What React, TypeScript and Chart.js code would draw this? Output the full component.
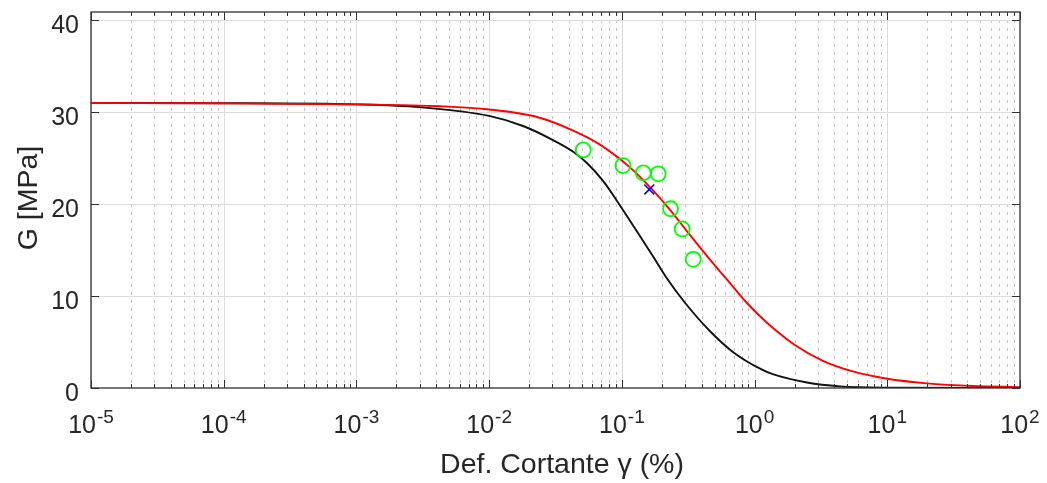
import React, { useEffect, useRef } from 'react';
import { Chart, registerables } from 'chart.js';

Chart.register(...registerables);

// ---- data ----
// black curve (hyperbolic model)
const strainModelA = [1e-5, 1e-4, 1e-3, 3e-3, 0.01, 0.018, 0.03, 0.043, 0.0543, 0.0724, 0.0914, 0.129, 0.172, 0.217, 0.298, 0.46, 0.69, 1.1, 1.37, 2.48, 4.4, 10, 100];
const modulusModelA = [31.0, 30.98, 30.85, 30.55, 29.6, 28.5, 27.0, 25.7, 24.5, 22.5, 20.4, 17.1, 14.3, 12.0, 9.3, 6.2, 3.9, 2.1, 1.5, 0.6, 0.18, 0.04, 0];
// red curve (fitted model)
const strainModelB = [1e-5, 1e-4, 1e-3, 4.3e-3, 0.01, 0.024, 0.043, 0.068, 0.115, 0.163, 0.23, 0.308, 0.46, 0.69, 0.87, 1.1, 1.37, 2.0, 3.27, 5.5, 10, 19.8, 44, 100];
const modulusModelB = [31.0, 30.97, 30.85, 30.65, 30.3, 29.4, 28.0, 26.5, 24.0, 21.85, 19.4, 17.1, 14.0, 11.0, 9.3, 7.8, 6.55, 4.7, 2.95, 1.8, 1.0, 0.5, 0.21, 0.1];
// green circles (measured)
const strainLab = [0.0512, 0.102, 0.145, 0.188, 0.233, 0.285, 0.345];
const modulusLab = [25.9, 24.2, 23.4, 23.3, 19.5, 17.3, 14.0];
// blue cross
const strainRef = [0.161];
const modulusRef = [21.6];

// ---- axes ----
const xTickExponents = [-5, -4, -3, -2, -1, 0, 1, 2];
const xMinorFactors = [2, 3, 4, 5, 6, 7, 8, 9];
const yTickValues = [0, 10, 20, 30, 40];
const xMin = 1e-5;
const xMax = 1e2;
const yMin = 0;
const yMax = 40.9;
const xTitle = 'Def. Cortante γ (%)';
const yTitle = 'G [MPa]';

const FONT = "'Liberation Sans', Arial, Helvetica, sans-serif";
const TEXT = '#262626';

const toPoints = (xs: number[], ys: number[]) => xs.map((x, i) => ({ x, y: ys[i] }));

const axesPlugin = {
  id: 'matlabAxes',
  beforeDatasetsDraw(chart: any) {
    const { ctx, chartArea: a, scales } = chart;
    const xs = scales.x;
    const ys = scales.y;
    ctx.save();
    ctx.beginPath();
    ctx.rect(a.left, a.top, a.right - a.left, a.bottom - a.top);
    ctx.clip();
    ctx.lineWidth = 1;
    // minor dotted x grid
    ctx.strokeStyle = '#c4c4c4';
    ctx.setLineDash([3, 5]);
    for (let i = 0; i < xTickExponents.length - 1; i++) {
      for (const f of xMinorFactors) {
        const px = Math.round(xs.getPixelForValue(f * Math.pow(10, xTickExponents[i]))) + 0.5;
        ctx.beginPath();
        ctx.moveTo(px, a.top);
        ctx.lineTo(px, a.bottom);
        ctx.stroke();
      }
    }
    // major grid
    ctx.setLineDash([]);
    ctx.strokeStyle = '#dcdcdc';
    for (const e of xTickExponents) {
      const px = Math.round(xs.getPixelForValue(Math.pow(10, e))) + 0.5;
      ctx.beginPath();
      ctx.moveTo(px, a.top);
      ctx.lineTo(px, a.bottom);
      ctx.stroke();
    }
    for (const v of yTickValues) {
      const py = Math.round(ys.getPixelForValue(v)) + 0.5;
      ctx.beginPath();
      ctx.moveTo(a.left, py);
      ctx.lineTo(a.right, py);
      ctx.stroke();
    }
    ctx.restore();
  },
  afterDatasetsDraw(chart: any) {
    const { ctx, chartArea: a, scales } = chart;
    const xs = scales.x;
    const ys = scales.y;
    ctx.save();
    // box
    ctx.strokeStyle = '#303030';
    ctx.lineWidth = 1.3;
    ctx.strokeRect(a.left, a.top, a.right - a.left, a.bottom - a.top);
    // ticks
    ctx.lineWidth = 1;
    const majorLen = 8;
    const minorLen = 4;
    ctx.beginPath();
    for (let i = 0; i < xTickExponents.length; i++) {
      const e = xTickExponents[i];
      const px = Math.round(xs.getPixelForValue(Math.pow(10, e))) + 0.5;
      ctx.moveTo(px, a.bottom); ctx.lineTo(px, a.bottom - majorLen);
      ctx.moveTo(px, a.top); ctx.lineTo(px, a.top + majorLen);
      if (i < xTickExponents.length - 1) {
        for (const f of xMinorFactors) {
          const mx = Math.round(xs.getPixelForValue(f * Math.pow(10, e))) + 0.5;
          ctx.moveTo(mx, a.bottom); ctx.lineTo(mx, a.bottom - minorLen);
          ctx.moveTo(mx, a.top); ctx.lineTo(mx, a.top + minorLen);
        }
      }
    }
    for (const v of yTickValues) {
      const py = Math.round(ys.getPixelForValue(v)) + 0.5;
      ctx.moveTo(a.left, py); ctx.lineTo(a.left + majorLen, py);
      ctx.moveTo(a.right, py); ctx.lineTo(a.right - majorLen, py);
    }
    ctx.stroke();

    // tick labels
    ctx.fillStyle = TEXT;
    const baseFont = `25px ${FONT}`;
    const expFont = `19px ${FONT}`;
    ctx.textBaseline = 'alphabetic';
    ctx.textAlign = 'left';
    for (const e of xTickExponents) {
      const px = xs.getPixelForValue(Math.pow(10, e));
      const expStr = e < 0 ? `-${Math.abs(e)}` : `${e}`;
      ctx.font = baseFont;
      const wb = ctx.measureText('10').width;
      ctx.font = expFont;
      const we = ctx.measureText(expStr).width;
      const start = px - (wb + we + 1) / 2;
      ctx.font = baseFont;
      ctx.fillText('10', start, a.bottom + 45);
      ctx.font = expFont;
      ctx.fillText(expStr, start + wb + 1, a.bottom + 35);
    }
    ctx.font = baseFont;
    ctx.textAlign = 'right';
    for (const v of yTickValues) {
      const py = ys.getPixelForValue(v);
      ctx.fillText(String(v), a.left - 12, py + 13);
    }

    // axis titles
    ctx.font = `28.5px ${FONT}`;
    ctx.textAlign = 'center';
    ctx.fillText(xTitle, 562, 473);
    ctx.save();
    ctx.translate(37, 198);
    ctx.rotate(-Math.PI / 2);
    ctx.textBaseline = 'alphabetic';
    ctx.fillText(yTitle, 0, 0);
    ctx.restore();

    ctx.restore();
  },
};

export default function App() {
  const canvasRef = useRef<HTMLCanvasElement | null>(null);

  useEffect(() => {
    const canvas = canvasRef.current;
    if (!canvas) return;
    const chart = new Chart(canvas, {
      type: 'scatter',
      data: {
        datasets: [
          {
            label: 'ref',
            data: toPoints(strainRef, modulusRef),
            showLine: false,
            pointStyle: 'crossRot',
            pointRadius: 7,
            pointBorderWidth: 1.6,
            pointBorderColor: '#0000ff',
            pointBackgroundColor: '#0000ff',
            order: 0,
          },
          {
            label: 'lab',
            data: toPoints(strainLab, modulusLab),
            showLine: false,
            pointStyle: 'circle',
            pointRadius: 7.5,
            pointBorderWidth: 1.8,
            pointBorderColor: '#00ff00',
            pointBackgroundColor: 'rgba(0,0,0,0)',
            order: 1,
          },
          {
            label: 'modelB',
            data: toPoints(strainModelB, modulusModelB),
            showLine: true,
            borderColor: '#ff0000',
            borderWidth: 1.9,
            pointRadius: 0,
            cubicInterpolationMode: 'monotone',
            fill: false,
            order: 2,
          },
          {
            label: 'modelA',
            data: toPoints(strainModelA, modulusModelA),
            showLine: true,
            borderColor: '#111111',
            borderWidth: 1.9,
            pointRadius: 0,
            cubicInterpolationMode: 'monotone',
            fill: false,
            order: 3,
          },
        ],
      },
      options: {
        animation: false,
        responsive: false,
        maintainAspectRatio: false,
        devicePixelRatio: 1,
        layout: { padding: { top: 12, right: 27, left: 0, bottom: 0 } },
        plugins: {
          legend: { display: false },
          tooltip: { enabled: false },
          title: { display: false },
        },
        events: [],
        scales: {
          x: {
            type: 'logarithmic',
            min: xMin,
            max: xMax,
            grid: { display: false },
            border: { display: false },
            ticks: { display: false },
            afterFit: (s: any) => { s.height = 95; },
          },
          y: {
            type: 'linear',
            min: yMin,
            max: yMax,
            grid: { display: false },
            border: { display: false },
            ticks: { display: false },
            afterFit: (s: any) => { s.width = 91; },
          },
        },
      },
      plugins: [axesPlugin],
    });
    return () => chart.destroy();
  }, []);

  return (
    <div style={{ position: 'absolute', left: 0, top: 0, width: 1047, height: 483, background: '#ffffff' }}>
      <canvas ref={canvasRef} width={1047} height={483} style={{ display: 'block', width: 1047, height: 483 }} />
    </div>
  );
}
